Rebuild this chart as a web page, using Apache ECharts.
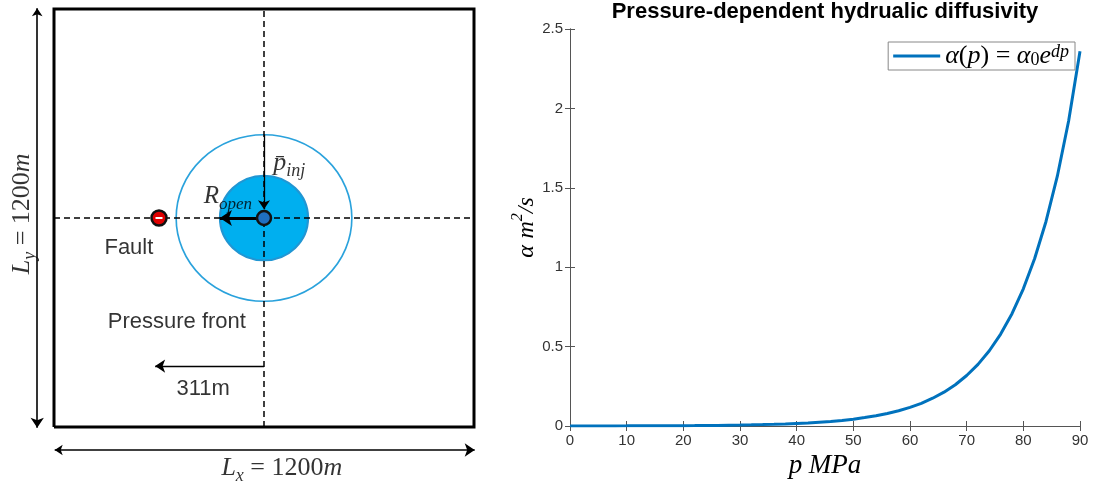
<!DOCTYPE html>
<html>
<head>
<meta charset="utf-8">
<script src="https://cdn.jsdelivr.net/npm/echarts@6/dist/echarts.min.js"></script>
<style>html,body{margin:0;padding:0;background:#fff}#c{width:1093px;height:487px}</style>
</head>
<body>
<div id="c"></div>
<script>
// ---------- Data: right panel (pressure-dependent diffusivity) ----------
const pressureMPa = [0, 2, 4, 6, 8, 10, 12, 14, 16, 18, 20, 22, 24, 26, 28, 30, 32, 34, 36, 38, 40, 42, 44, 46, 48, 50,
                     52, 54, 56, 58, 60, 62, 64, 66, 68, 70, 72, 74, 76, 78, 80, 82, 84, 86, 88, 90];
const diffusivity = [0.0003, 0.0004, 0.0004, 0.0005, 0.0007, 0.0008, 0.0010, 0.0012, 0.0014, 0.0018, 0.0022, 0.0026,
                     0.0032, 0.0039, 0.0048, 0.0058, 0.0071, 0.0087, 0.0106, 0.013, 0.016, 0.019, 0.024, 0.029, 0.035,
                     0.043, 0.053, 0.064, 0.079, 0.096, 0.117, 0.143, 0.175, 0.213, 0.26, 0.318, 0.388, 0.474, 0.579,
                     0.707, 0.864, 1.055, 1.288, 1.573, 1.922, 2.36];
const legendName = 'alpha';

// ---------- Data: left panel (domain schematic, metres) ----------
const domainLx = 1200;
const domainLy = 1200;
const injectionWell = [600, 600];
const faultX = 300;
const openRadius = 126;        // R_open (filled disc)
const frontRadiusX = 251;      // pressure front (drawn circle)
const frontRadiusY = 239;
const frontDistance = 311;     // "311m" arrow length

// ---------- Layout ----------
const G0 = {left: 54, top: 9, width: 420, height: 418};
const pxX = G0.width / domainLx, pxY = G0.height / domainLy;
const serif = 'Liberation Serif';
const sans = 'Liberation Sans';
const mathRich = (size, lh) => {
  const L = lh || size + 8;
  const s = Math.round(size * 0.68);
  return {
    m:   {fontFamily: serif, fontStyle: 'italic', fontSize: size, lineHeight: L, color: '#000', verticalAlign: 'middle'},
    r:   {fontFamily: serif, fontSize: size, lineHeight: L, color: '#000', verticalAlign: 'middle'},
    sub: {fontFamily: serif, fontStyle: 'italic', fontSize: s, lineHeight: s, color: '#000', verticalAlign: 'bottom'},
    subr:{fontFamily: serif, fontSize: s, lineHeight: s, color: '#000', verticalAlign: 'bottom'},
    sup: {fontFamily: serif, fontStyle: 'italic', fontSize: s, lineHeight: s, color: '#000', verticalAlign: 'top'}
  };
};

const cx = injectionWell[0], cy = injectionWell[1];
const arrowLine = (coords, width, sym, symSize) => ({
  type: 'lines', coordinateSystem: 'cartesian2d', xAxisIndex: 0, yAxisIndex: 0,
  clip: false, silent: true, polyline: false,
  symbol: sym, symbolSize: symSize,
  lineStyle: {color: '#000', width: width, opacity: 1, curveness: 0},
  data: [{coords: coords}], z: 5
});

const textItem = (x, y, formatter, extra) => ({
  value: [x, y],
  label: Object.assign({show: true, position: 'inside', formatter: formatter}, extra || {})
});

const option = {
  animation: false,
  backgroundColor: '#fff',
  grid: [
    {left: G0.left, top: G0.top, width: G0.width, height: G0.height, show: false, outerBoundsMode: 'none', containLabel: false},
    {left: 570, top: 29, width: 510, height: 397, show: false, outerBoundsMode: 'none', containLabel: false}
  ],
  xAxis: [
    {gridIndex: 0, type: 'value', min: 0, max: domainLx, show: false},
    {gridIndex: 1, type: 'value', min: 0, max: 90, interval: 10,
     axisLine: {lineStyle: {color: '#555', width: 1}},
     axisTick: {inside: true, length: 5, lineStyle: {color: '#555'}},
     axisLabel: {color: '#333', fontFamily: sans, fontSize: 15, margin: 7},
     splitLine: {show: false},
     name: '{m|p}  {m|MPa}', nameLocation: 'middle', nameGap: 22,
     nameTextStyle: {rich: mathRich(27)}},
    {gridIndex: 1, type: 'value', min: 0, max: 90, interval: 10, position: 'top',
     axisLine: {lineStyle: {color: '#555', width: 1}},
     axisTick: {inside: true, length: 5, lineStyle: {color: '#555'}},
     axisLabel: {show: false}, splitLine: {show: false},
     name: 'Pressure-dependent hydrualic diffusivity', nameLocation: 'middle', nameGap: 6,
     nameTextStyle: {fontFamily: sans, fontWeight: 'bold', fontSize: 22, color: '#000'}}
  ],
  yAxis: [
    {gridIndex: 0, type: 'value', min: 0, max: domainLy, show: false},
    {gridIndex: 1, type: 'value', min: 0, max: 2.5, interval: 0.5,
     axisLine: {show: true, lineStyle: {color: '#555', width: 1}},
     axisTick: {show: true, inside: true, length: 5, lineStyle: {color: '#555'}},
     axisLabel: {color: '#333', fontFamily: sans, fontSize: 15, margin: 7},
     splitLine: {show: false},
     name: '{m|α}  {m|m}{sup|2}{m|/s}', nameLocation: 'middle', nameGap: 27, nameRotate: 90,
     nameTextStyle: {rich: mathRich(24)}},
    {gridIndex: 1, type: 'value', min: 0, max: 2.5, interval: 0.5, position: 'right',
     axisLine: {show: true, lineStyle: {color: '#555', width: 1}},
     axisTick: {show: true, inside: true, length: 5, lineStyle: {color: '#555'}},
     axisLabel: {show: false}, splitLine: {show: false}}
  ],
  legend: {
    data: [{name: legendName, icon: 'rect'}], right: 18, top: 42,
    backgroundColor: '#fff', borderColor: '#888', borderWidth: 1,
    padding: [1, 6, 1, 5], itemWidth: 47, itemHeight: 3, itemGap: 4,
    formatter: () => '{m|α}{r|(}{m|p}{r|)}{r| = }{m|α}{subr|0}{m|e}{sup|dp}',
    textStyle: {rich: mathRich(26, 26)}
  },
  series: [
    // ---- right panel curve ----
    {name: legendName, type: 'line', xAxisIndex: 1, yAxisIndex: 1,
     data: pressureMPa.map((p, i) => [p, diffusivity[i]]),
     smooth: false, symbol: 'none',
     lineStyle: {color: '#0072BD', width: 3}, itemStyle: {color: '#0072BD'}, z: 3},

    // ---- left panel: opening disc ----
    {type: 'scatter', xAxisIndex: 0, yAxisIndex: 0, silent: true, z: 1, clip: false,
     data: [injectionWell], symbol: 'circle',
     symbolSize: [openRadius * 2 * pxX, openRadius * 2 * pxY * 0.965],
     itemStyle: {color: '#00AFEF', borderColor: '#2196D3', borderWidth: 2, opacity: 1}},
    // ---- pressure front circle ----
    {type: 'scatter', xAxisIndex: 0, yAxisIndex: 0, silent: true, z: 1, clip: false,
     data: [injectionWell], symbol: 'circle',
     symbolSize: [frontRadiusX * 2 * pxX, frontRadiusY * 2 * pxY],
     itemStyle: {color: 'rgba(0,0,0,0)', borderColor: '#2AA2DC', borderWidth: 1.6, opacity: 1}},
    // ---- domain box ----
    {type: 'lines', coordinateSystem: 'cartesian2d', xAxisIndex: 0, yAxisIndex: 0, clip: false, silent: true,
     polyline: true, z: 4,
     lineStyle: {color: '#000', width: 3, opacity: 1},
     data: [{coords: [[0, 0], [domainLx, 0], [domainLx, domainLy], [0, domainLy], [0, 0]]}]},
    // ---- dashed centre lines ----
    {type: 'lines', coordinateSystem: 'cartesian2d', xAxisIndex: 0, yAxisIndex: 0, clip: false, silent: true, z: 3,
     lineStyle: {color: '#000', width: 1.5, opacity: 1, type: [6, 4]},
     data: [{coords: [[0, cy], [domainLx, cy]]}, {coords: [[cx, 0], [cx, domainLy]]}]},
    // ---- arrows ----
    arrowLine([[cx, cy], [cx - openRadius, cy]], 3, ['none', 'arrow'], [12, 12]),
    arrowLine([[cx, cy + frontRadiusY], [cx, cy + 25]], 1.3, ['none', 'arrow'], [8, 9]),
    arrowLine([[cx, 175], [cx - frontDistance, 175]], 1.3, ['none', 'arrow'], [8, 10]),
    arrowLine([[-48, domainLy + 2], [-48, -2]], 1.6, ['arrow', 'arrow'], [8, 10]),
    arrowLine([[2, -66], [domainLx + 2, -66]], 1.6, ['arrow', 'arrow'], [8, 10]),
    // ---- injection well ----
    {type: 'scatter', xAxisIndex: 0, yAxisIndex: 0, silent: true, z: 6, clip: false,
     data: [injectionWell], symbol: 'circle', symbolSize: 14,
     itemStyle: {color: '#1F6FC0', borderColor: '#111', borderWidth: 2.5, opacity: 1}},
    // ---- fault ----
    {type: 'scatter', xAxisIndex: 0, yAxisIndex: 0, silent: true, z: 6, clip: false,
     data: [[faultX, cy]], symbol: 'circle', symbolSize: 15,
     itemStyle: {color: '#E00000', borderColor: '#111', borderWidth: 2.5, opacity: 1}},
    {type: 'scatter', xAxisIndex: 0, yAxisIndex: 0, silent: true, z: 7, clip: false,
     data: [[faultX, cy]], symbol: 'rect', symbolSize: [7, 2],
     itemStyle: {color: '#fff', opacity: 1}},
    // ---- text annotations ----
    {type: 'scatter', xAxisIndex: 0, yAxisIndex: 0, silent: true, z: 8, symbolSize: 0, clip: false,
     label: {show: true, color: '#000', fontFamily: sans, fontSize: 22},
     data: [
       textItem(214, 514, 'Fault'),
       textItem(351, 301, 'Pressure front'),
       textItem(426, 109, '311m'),
       textItem(497, 662, '{m|R}{sub|open}', {rich: mathRich(25)}),
       textItem(672, 758, '{m|p\u0304}{sub|inj}', {rich: mathRich(26)}),
       textItem(651, -118, '{m|L}{sub|x}{r| = 1200}{m|m}', {rich: mathRich(26)}),
       textItem(-91, 612, '{m|L}{sub|y}{r| = 1200}{m|m}', {rich: mathRich(26), rotate: 90})
     ]}
  ]
};

const chart = echarts.init(document.getElementById('c'), null, {renderer: 'canvas'});
chart.setOption(option);
</script>
</body>
</html>
